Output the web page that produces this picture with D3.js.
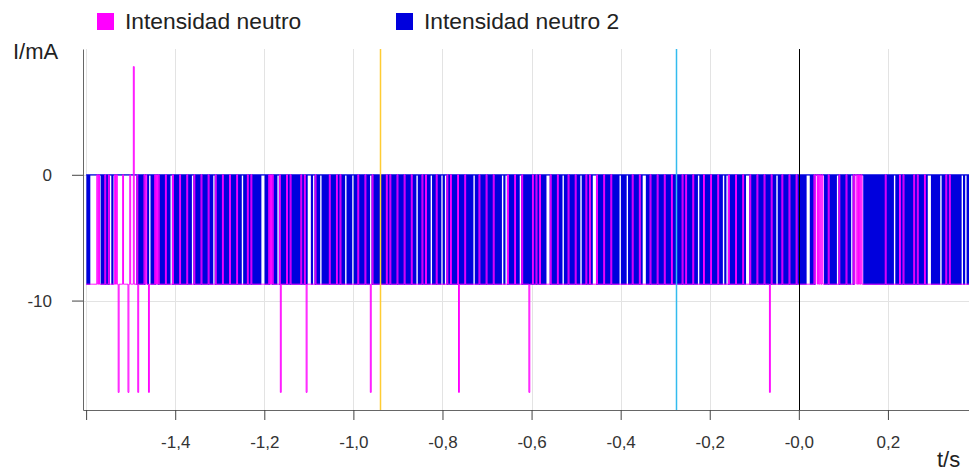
<!DOCTYPE html>
<html>
<head>
<meta charset="utf-8">
<script src="https://cdn.jsdelivr.net/npm/d3@7"></script>
<style>
  body { margin: 0; background: #fff; }
  svg { font-family: "Liberation Sans", Arial, sans-serif; }
</style>
</head>
<body>
<svg id="chart" width="969" height="471"></svg>
<script>
// Series
var seriesNames = ["Intensidad neutro", "Intensidad neutro 2"];
var seriesColors = ["#ff00ff", "#0000dd"];

// Sampled state of each signal: one bit per 2 ms sample (1 = low level), 4 samples per hex char
var tStart = -1.6;
var dt = 0.002;
var lowLevel = -8.7;
var neutro1Bits = [
  "fff5fbbf5fbfbfbfaffabfbfbfbfbfbfbfbfbfbfbf",
  "bffbbffffabfbfbbffbbffbfffbfbbffffbfbfbfff",
  "bbfbfbfbffbbffbffbbfbfbfffbfbfbfffbfbfbfbb",
  "bbffbfbffbfbffbbfbfbfbfffffbfbffbfbfbfbffb",
  "bfbffbfbfbffbfbfbfbfbfbfbffbfbfbffffa55fbf",
  "fbfbfa55ffffffbfffbbffbbfbfffffbbfffff"
].join("");
var neutro2Bits = [
  "500055440000005544545554555554555554555555",
  "545555505454555555550454555555454555545555",
  "555555554555455445555555455555554455545555",
  "555055545555455505555554545555055555555555",
  "555455555544555550555555545555555505400555",
  "45554400555555554555555555055455555445"
].join("");

// Isolated peaks of the first series
var peakTimes = [-1.5283, -1.5058, -1.4935, -1.4834, -1.4609, -1.1647, -1.1063, -0.9626, -0.765, -0.6057, -0.0669];
var peakValues = [-17.3, -17.3, 8.6, -17.3, -17.3, -17.3, -17.3, -17.3, -17.3, -17.3, -17.3];

// Axes
var xTicks = [-1.6, -1.4, -1.2, -1.0, -0.8, -0.6, -0.4, -0.2, 0, 0.2];
var xTickLabels = ["", "-1,4", "-1,2", "-1,0", "-0,8", "-0,6", "-0,4", "-0,2", "-0,0", "0,2"];
var yTicks = [0, -10];
var yTickLabels = ["0", "-10"];

// Cursors
var cursorTimes = [-0.9401, -0.2757, 0];
var cursorColors = ["#ffcc33", "#33bbee", "#000000"];

var svg = d3.select("#chart");
var plotLeft = 83, plotRight = 969, plotTop = 49, plotBottom = 410;

var x = d3.scaleLinear().domain([-1.607, 0.382]).range([plotLeft, plotRight]);
var y = d3.scaleLinear().domain([-18.7, 10]).range([plotBottom, plotTop]);

function decode(bits) {
  var pts = [];
  bits.split("").forEach(function(c) {
    var n = parseInt(c, 16);
    for (var b = 3; b >= 0; b--) {
      pts.push({ t: tStart + pts.length * dt, v: (n >> b) & 1 ? lowLevel : 0 });
    }
  });
  pts.push({ t: tStart + pts.length * dt, v: pts[pts.length - 1].v });
  return pts;
}

var neutro1 = decode(neutro1Bits);
var neutro2 = decode(neutro2Bits);
peakTimes.forEach(function(t, i) {
  neutro1[Math.round((t - tStart) / dt)].v = peakValues[i];
});

svg.append("defs").append("clipPath").attr("id", "plot")
  .append("rect").attr("x", plotLeft).attr("y", plotTop)
  .attr("width", plotRight - plotLeft).attr("height", plotBottom - plotTop);

// Grid
var grid = svg.append("g");
grid.selectAll("line.v").data(xTicks).enter().append("line")
  .attr("x1", function(d) { return Math.round(x(d)) + 0.5; })
  .attr("x2", function(d) { return Math.round(x(d)) + 0.5; })
  .attr("y1", plotTop).attr("y2", plotBottom)
  .attr("stroke", "#e3e3e3");
grid.selectAll("line.h").data(yTicks).enter().append("line")
  .attr("x1", plotLeft).attr("x2", plotRight)
  .attr("y1", function(d) { return Math.round(y(d)) + 0.5; })
  .attr("y2", function(d) { return Math.round(y(d)) + 0.5; })
  .attr("stroke", "#e3e3e3");

// Signals (second series under the first)
var line = d3.line()
  .x(function(d) { return x(d.t); })
  .y(function(d) { return y(d.v); })
  .curve(d3.curveStepAfter);

var plot = svg.append("g").attr("clip-path", "url(#plot)");
plot.append("path").datum(neutro2)
  .attr("d", line).attr("fill", "none")
  .attr("stroke", seriesColors[1]).attr("stroke-width", 1.3);
plot.append("path").datum(neutro1)
  .attr("d", line).attr("fill", "none")
  .attr("stroke", seriesColors[0]).attr("stroke-width", 1);

// Cursor lines
plot.selectAll("line.cursor").data(cursorTimes).enter().append("line")
  .attr("x1", function(d) { return Math.round(x(d)) + 0.5; })
  .attr("x2", function(d) { return Math.round(x(d)) + 0.5; })
  .attr("y1", plotTop).attr("y2", plotBottom)
  .attr("stroke", function(d, i) { return cursorColors[i]; })
  .attr("stroke-width", function(d, i) { return i < 2 ? 1.5 : 1; });

// Axes
var yAxis = svg.append("g").attr("transform", "translate(" + plotLeft + ",0)")
  .call(d3.axisLeft(y).tickValues(yTicks)
    .tickFormat(function(d, i) { return yTickLabels[i]; })
    .tickSize(11).tickSizeOuter(0).tickPadding(20));
var xAxis = svg.append("g").attr("transform", "translate(0," + plotBottom + ")")
  .call(d3.axisBottom(x).tickValues(xTicks)
    .tickFormat(function(d, i) { return xTickLabels[i]; })
    .tickSize(10).tickSizeOuter(0).tickPadding(16));

[yAxis, xAxis].forEach(function(g) {
  g.select(".domain").attr("stroke", "#666");
  g.selectAll(".tick line").attr("stroke", "#444");
  g.selectAll(".tick text").attr("fill", "#333")
    .style("font-size", "17px").style("font-family", "Liberation Sans, Arial, sans-serif");
});

svg.append("text").attr("x", 13).attr("y", 59)
  .attr("fill", "#222").style("font-size", "22px").text("I/mA");
svg.append("text").attr("x", 937).attr("y", 467)
  .attr("fill", "#222").style("font-size", "22px").text("t/s");

// Legend
var legendX = [97, 396];
var legend = svg.selectAll("g.legend").data(seriesNames).enter().append("g")
  .attr("transform", function(d, i) { return "translate(" + legendX[i] + ",13)"; });
legend.append("rect").attr("width", 17).attr("height", 17)
  .attr("fill", function(d, i) { return seriesColors[i]; });
legend.append("text").attr("x", 28).attr("y", 16)
  .attr("fill", "#222").style("font-size", "22.8px")
  .text(function(d) { return d; });
</script>
</body>
</html>
